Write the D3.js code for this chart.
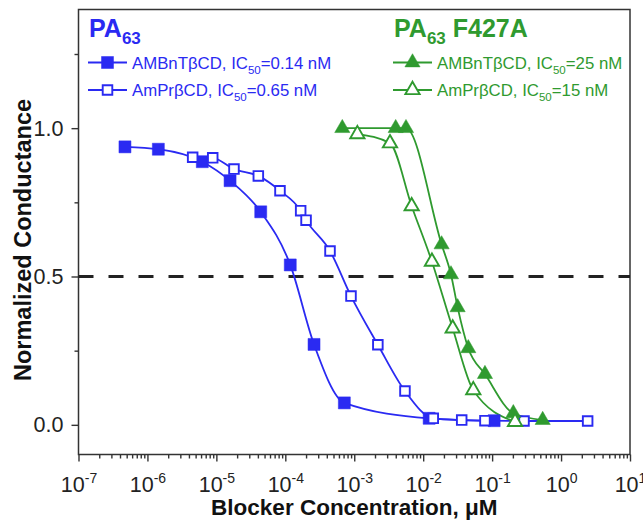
<!DOCTYPE html>
<html>
<head>
<meta charset="utf-8">
<script src="https://cdn.jsdelivr.net/npm/d3@7"></script>
<style>
body {margin: 0; background: #fff;}
svg {display: block;}
text {font-family: "Liberation Sans", Arial, sans-serif;}
</style>
</head>
<body>
<div id="chart"></div>
<script>
// concentrations in uM, response = normalized conductance
var pa63BnX = [4.72e-7, 1.44e-6, 6.25e-6, 1.58e-5, 4.40e-5, 1.18e-4, 2.61e-4, 7.18e-4, 1.22e-2, 0.107];
var pa63BnY = [0.937, 0.929, 0.887, 0.823, 0.718, 0.539, 0.271, 0.074, 0.022, 0.014];

var pa63PrX = [4.53e-6, 8.85e-6, 1.80e-5, 4.06e-5, 8.37e-5, 1.67e-4, 2.00e-4, 4.45e-4, 8.97e-4, 2.2e-3, 5.44e-3, 1.40e-2, 3.62e-2, 7.87e-2, 0.29, 2.43];
var pa63PrY = [0.902, 0.900, 0.862, 0.839, 0.789, 0.722, 0.690, 0.586, 0.434, 0.27, 0.114, 0.022, 0.016, 0.014, 0.013, 0.013];

var mutBnX = [6.71e-4, 3.99e-3, 5.63e-3, 1.85e-2, 2.53e-2, 3.16e-2, 4.51e-2, 7.87e-2, 0.203, 0.541];
var mutBnY = [1.0, 1.0, 1.0, 0.608, 0.507, 0.396, 0.258, 0.171, 0.039, 0.016];

var mutPrX = [1.11e-3, 3.30e-3, 6.81e-3, 1.34e-2, 2.68e-2, 5.33e-2, 0.215];
var mutPrY = [0.980, 0.949, 0.737, 0.550, 0.325, 0.117, 0.010];

var compoundNames = ['AMBnTβCD', 'AmPrβCD', 'AMBnTβCD', 'AmPrβCD'];
var ic50Labels = ['0.14 nM', '0.65 nM', '25 nM', '15 nM'];
var xTickExps = [-7, -6, -5, -4, -3, -2, -1, 0, 1];
var yTicks = [0, 0.5, 1.0];
var yMinorTicks = [0.25, 0.75, 1.25];
var halfLine = 0.5;

var blue = '#2a2af2';
var green = '#2f9a2f';
var axisColor = '#333';

var W = 643, H = 521;
var plot = {left: 78.5, right: 630, top: 9.5, bottom: 454.5};

var svg = d3.select('#chart').append('svg')
    .attr('width', W)
    .attr('height', H);

var x = d3.scaleLog()
    .domain([1e-7, 10])
    .range([plot.left, plot.right]);
var y = d3.scaleLinear()
    .domain([-0.1, 1.4])
    .range([plot.bottom, plot.top]);

// x axis ticks
var xMajor = xTickExps.map(e => Math.pow(10, e));
var xMinor = [];
xTickExps.slice(0, -1).forEach(function(e){
    for (var k = 2; k < 10; k++) xMinor.push(k * Math.pow(10, e));
});

function styleAxis(g){
    g.select('.domain').remove();
    g.selectAll('line').attr('stroke', axisColor).attr('stroke-width', 1.4);
}

svg.append('g')
    .attr('transform', 'translate(0,' + plot.bottom + ')')
    .call(d3.axisBottom(x).tickValues(xMinor).tickSize(4).tickFormat(''))
    .call(styleAxis);
var xAxis = svg.append('g')
    .attr('transform', 'translate(0,' + plot.bottom + ')')
    .call(d3.axisBottom(x).tickValues(xMajor).tickSize(7).tickFormat(''))
    .call(styleAxis);

xAxis.selectAll('.tick').each(function(d, i){
    var t = d3.select(this).append('text')
        .attr('y', 37)
        .attr('text-anchor', 'middle')
        .attr('fill', '#222')
        .style('font-size', '21.5px');
    t.append('tspan').text('10');
    t.append('tspan')
        .attr('dy', -9)
        .style('font-size', '14px')
        .text(xTickExps[i]);
});

svg.append('g')
    .attr('transform', 'translate(' + plot.left + ',0)')
    .call(d3.axisLeft(y).tickValues(yMinorTicks).tickSize(4).tickFormat(''))
    .call(styleAxis);
var yAxis = svg.append('g')
    .attr('transform', 'translate(' + plot.left + ',0)')
    .call(d3.axisLeft(y).tickValues(yTicks).tickSize(7).tickPadding(8).tickFormat(d3.format('.1f')))
    .call(styleAxis);
yAxis.selectAll('text')
    .attr('fill', '#222')
    .style('font-size', '21.5px')
    .style('font-family', '"Liberation Sans", Arial, sans-serif');

// frame
svg.append('rect')
    .attr('x', plot.left)
    .attr('y', plot.top)
    .attr('width', plot.right - plot.left)
    .attr('height', plot.bottom - plot.top)
    .attr('fill', 'none')
    .attr('stroke', axisColor)
    .attr('stroke-width', 1.5);

// 50% line
svg.append('line')
    .attr('x1', plot.left)
    .attr('x2', plot.right)
    .attr('y1', y(halfLine))
    .attr('y2', y(halfLine))
    .attr('stroke', '#222')
    .attr('stroke-width', 3)
    .attr('stroke-dasharray', '15,15');

var series = [
    {xs: pa63BnX, ys: pa63BnY, color: blue, shape: d3.symbolSquare, size: 144, filled: true},
    {xs: pa63PrX, ys: pa63PrY, color: blue, shape: d3.symbolSquare, size: 92, filled: false},
    {xs: mutBnX, ys: mutBnY, color: green, shape: d3.symbolTriangle, size: 100, filled: true},
    {xs: mutPrX, ys: mutPrY, color: green, shape: d3.symbolTriangle, size: 88, filled: false}
];

var line = d3.line()
    .x(d => x(d[0]))
    .y(d => y(d[1]))
    .curve(d3.curveMonotoneX);

series.forEach(function(s){
    var pts = s.xs.map((v, i) => [v, s.ys[i]]);
    svg.append('path')
        .datum(pts)
        .attr('d', line)
        .attr('fill', 'none')
        .attr('stroke', s.color)
        .attr('stroke-width', 1.8);
});

function drawMarker(g, s){
    return g.append('path')
        .attr('d', d3.symbol().type(s.shape).size(s.size))
        .attr('fill', s.filled ? s.color : '#fff')
        .attr('stroke', s.color)
        .attr('stroke-width', s.filled ? 0.5 : 1.9);
}

series.forEach(function(s){
    s.xs.forEach(function(v, i){
        var g = svg.append('g')
            .attr('transform', 'translate(' + x(v) + ',' + y(s.ys[i]) + ')');
        drawMarker(g, s);
    });
});

// legends
var groups = [
    {x: 88, color: blue, suffix: ''},
    {x: 393, color: green, suffix: ' F427A'}
];
groups.forEach(function(gr, gi){
    var title = svg.append('text')
        .attr('x', gr.x + 1)
        .attr('y', 37)
        .attr('fill', gr.color)
        .style('font-size', '25px')
        .style('font-weight', 'bold');
    title.append('tspan').text('PA');
    title.append('tspan').attr('dy', 7).style('font-size', '17px').text('63');
    if (gr.suffix) title.append('tspan').attr('dy', -7).text(gr.suffix);

    [0, 1].forEach(function(r){
        var idx = gi * 2 + r;
        var s = series[idx];
        var cy = 62.5 + r * 27.5;
        svg.append('line')
            .attr('x1', gr.x).attr('x2', gr.x + 39)
            .attr('y1', cy).attr('y2', cy)
            .attr('stroke', gr.color)
            .attr('stroke-width', 1.8);
        var g = svg.append('g').attr('transform', 'translate(' + (gr.x + 19.5) + ',' + cy + ')');
        drawMarker(g, s);
        var t = svg.append('text')
            .attr('x', gr.x + 44)
            .attr('y', cy + 6)
            .attr('fill', gr.color)
            .style('font-size', '16.8px');
        t.append('tspan').text(compoundNames[idx] + ', IC');
        t.append('tspan').attr('dy', 5).style('font-size', '11.5px').text('50');
        t.append('tspan').attr('dy', -5).text('=' + ic50Labels[idx]);
    });
});

// axis titles
svg.append('text')
    .attr('x', (plot.left + plot.right) / 2)
    .attr('y', 515)
    .attr('text-anchor', 'middle')
    .attr('fill', '#111')
    .style('font-size', '22.5px')
    .style('font-weight', 'bold')
    .text('Blocker Concentration, μM');

svg.append('text')
    .attr('transform', 'translate(31,' + 240 + ') rotate(-90)')
    .attr('text-anchor', 'middle')
    .attr('fill', '#111')
    .style('font-size', '23.5px')
    .style('font-weight', 'bold')
    .text('Normalized Conductance');
</script>
</body>
</html>
